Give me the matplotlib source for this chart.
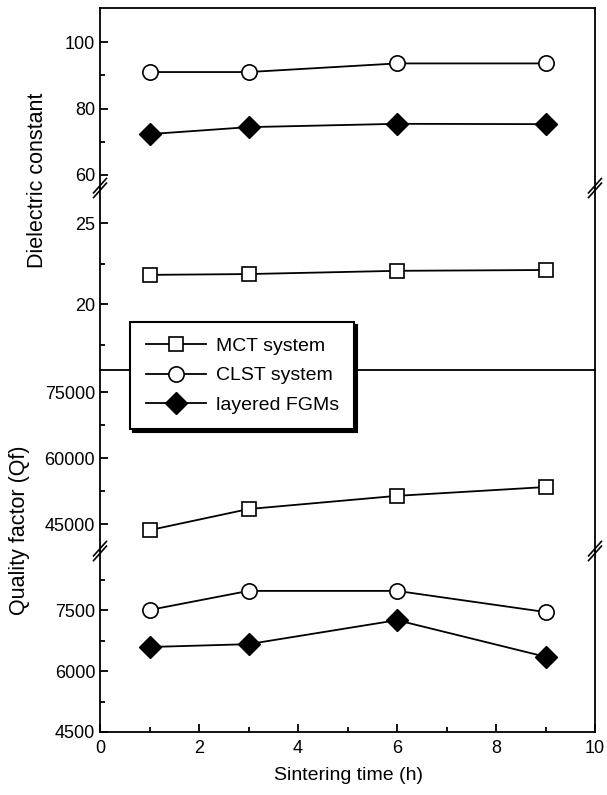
import matplotlib
matplotlib.use('agg')
import matplotlib.pyplot as plt
import numpy as np

plt.rcParams['font.family'] = ['Liberation Sans', 'DejaVu Sans']

hours = [1, 3, 6, 9]

# dielectric constant
mct_k = [21.8, 21.85, 22.05, 22.1]
clst_k = [91.0, 91.0, 93.6, 93.6]
fgm_k = [72.3, 74.4, 75.4, 75.3]

# quality factor (Qf)
mct_qf = [43600, 48400, 51400, 53400]
clst_qf = [7500, 7970, 7970, 7450]
fgm_qf = [6590, 6660, 7250, 6350]

W, H = 607, 795
fig = plt.figure(figsize=(W / 100, H / 100), dpi=100)

L, R = 100, 595
segs = [(8, 188), (188, 370), (370, 551), (551, 732)]
axes = []
for top, bot in segs:
    ax = fig.add_axes([L / W, 1 - bot / H, (R - L) / W, (bot - top) / H])
    axes.append(ax)
ax1, ax2, ax3, ax4 = axes

ax1.set_ylim(56.06, 110.3)
ax2.set_ylim(15.93, 27.16)
ax3.set_ylim(38864, 80000)
ax4.set_ylim(4500, 8951)

ax1.set_yticks([60, 80, 100])
ax1.set_yticks([70, 90], minor=True)
ax2.set_yticks([20, 25])
ax2.set_yticks([17.5, 22.5], minor=True)
ax3.set_yticks([45000, 60000, 75000])
ax3.set_yticks([52500, 67500], minor=True)
ax4.set_yticks([4500, 6000, 7500])
ax4.set_yticks([5250, 6750, 8250], minor=True)

sty = dict(color='black', lw=1.3)
for ax in axes:
    ax.set_xlim(0, 10)
    ax.tick_params(axis='both', which='both', direction='in', labelsize=13,
                   right=False, top=False, width=1.3)
    ax.tick_params(which='major', length=6)
    ax.tick_params(which='minor', length=3.5)
    for s in ax.spines.values():
        s.set_linewidth(1.3)
    ax.patch.set_alpha(0)

for ax in (ax1, ax2, ax3):
    ax.set_xticks([])
ax1.spines['bottom'].set_visible(False)
ax2.spines['top'].set_visible(False)
ax3.spines['top'].set_visible(False)
ax3.spines['bottom'].set_visible(False)
ax4.spines['top'].set_visible(False)

ax4.set_xticks([0, 2, 4, 6, 8, 10])
ax4.set_xticks([1, 3, 5, 7, 9], minor=True)
ax4.tick_params(axis='x', pad=6)

sq = dict(marker='s', ms=10, mfc='white', mec='black', mew=1.2)
ci = dict(marker='o', ms=11, mfc='white', mec='black', mew=1.2)
di = dict(marker='D', ms=11.5, mfc='black', mec='black')

h_mct, = ax2.plot(hours, mct_k, clip_on=False, **sq, **sty)
h_clst, = ax1.plot(hours, clst_k, clip_on=False, **ci, **sty)
h_fgm, = ax1.plot(hours, fgm_k, clip_on=False, **di, **sty)

ax3.plot(hours, mct_qf, clip_on=False, **sq, **sty)
ax4.plot(hours, clst_qf, clip_on=False, **ci, **sty)
ax4.plot(hours, fgm_qf, clip_on=False, **di, **sty)

# break marks
for ax in (ax1, ax3):
    for xa in (0, 1):
        for dy in (-0.013, 0.013):
            ax.plot([xa - 0.013, xa + 0.013], [dy - 0.04, dy + 0.04], transform=ax.transAxes,
                    color='black', lw=1.2, clip_on=False)

fig.text(38 / W, 1 - 180 / H, 'Dielectric constant', rotation=90, ha='center', va='center', fontsize=15.5)
fig.text(20 / W, 1 - 530 / H, 'Quality factor (Qf)', rotation=90, ha='center', va='center', fontsize=15.5)
fig.text(348 / W, 1 - 776 / H, 'Sintering time (h)', ha='center', va='center', fontsize=14)

leg = fig.legend([h_mct, h_clst, h_fgm], ['MCT system', 'CLST system', 'layered FGMs'],
                 loc='upper left', bbox_to_anchor=(130 / W, 1 - 322 / H), borderaxespad=0,
                 fancybox=False, shadow={'color': 'black', 'alpha': 1}, framealpha=1,
                 edgecolor='black', fontsize=14, handlelength=3.1, labelspacing=0.6,
                 borderpad=0.8, handletextpad=0.5)
leg.get_frame().set_linewidth(1.5)

fig.savefig('out.png', dpi=100)
